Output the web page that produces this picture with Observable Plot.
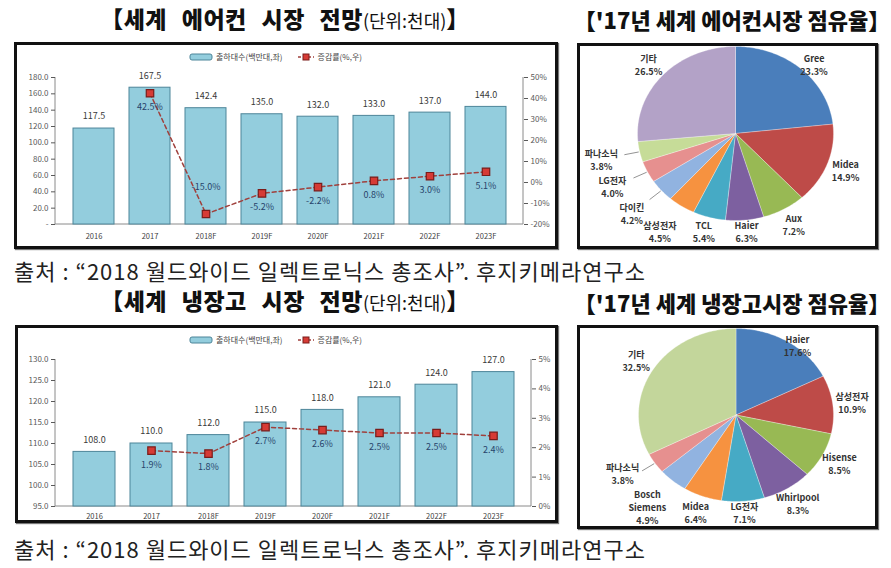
<!DOCTYPE html>
<html><head><meta charset="utf-8">
<script src="https://cdn.jsdelivr.net/npm/d3@7"></script>
<script src="https://cdn.jsdelivr.net/npm/@observablehq/plot@0.6"></script>
<style>
body{margin:0;background:#fff;font-family:"Noto Sans CJK KR","Noto Sans",sans-serif;}
#root{position:relative;width:891px;height:568px;overflow:hidden;background:#fff;}
.box{position:absolute;border:3px solid #111;box-sizing:border-box;box-shadow:1px 1px 1px #777;}
.title{position:absolute;font-weight:900;font-size:22px;white-space:nowrap;transform:translate(-50%,-50%);color:#111;line-height:1.2;}
.title.wide{font-size:23px;word-spacing:9px;letter-spacing:0.5px;}
.title small{font-weight:400;font-size:18px;letter-spacing:0;}
.caption{position:absolute;font-size:22px;letter-spacing:1px;white-space:nowrap;color:#222;line-height:1.2;transform:translateY(-50%);}
.legend{position:absolute;display:flex;align-items:center;font-size:8px;color:#444;white-space:nowrap;line-height:1;}
.legend svg{margin-right:3px;}
.legend span{margin-right:14px;}
.plot{position:absolute;overflow:visible;}
</style></head>
<body><div id="root"></div>
<script>
// ---------- data ----------
const years = ["2016","2017","2018F","2019F","2020F","2021F","2022F","2023F"];
const acUnits = [117.5,167.5,142.4,135.0,132.0,133.0,137.0,144.0];
const acGrowth = [null,42.5,-15.0,-5.2,-2.2,0.8,3.0,5.1];
const acLeftTicks = [0,20,40,60,80,100,120,140,160,180];
const acRightTicks = [-20,-10,0,10,20,30,40,50];
const frUnits = [108.0,110.0,112.0,115.0,118.0,121.0,124.0,127.0];
const frGrowth = [null,1.9,1.8,2.7,2.6,2.5,2.5,2.4];
const frLeftTicks = [95,100,105,110,115,120,125,130];
const frRightTicks = [0,1,2,3,4,5];
const acBrands = ["Gree","Midea","Aux","Haier","TCL","삼성전자","다이킨","LG전자","파나소닉","기타"];
const acShares = [23.3,14.9,7.2,6.3,5.4,4.5,4.2,4.0,3.8,26.5];
const frBrands = ["Haier","삼성전자","Hisense","Whirlpool","LG전자","Midea","Bosch\nSiemens","파나소닉","기타"];
const frShares = [17.6,10.9,8.5,8.3,7.1,6.4,4.9,3.8,32.5];
const titles = ["세계 에어컨 시장 전망","'17년 세계 에어컨시장 점유율","세계 냉장고 시장 전망","'17년 세계 냉장고시장 점유율"];
const unitNote = "(단위:천대)";
const source = "출처 : “2018 월드와이드 일렉트로닉스 총조사”. 후지키메라연구소";
const legendBar = "출하대수(백만대,좌)";
const legendLine = "증감률(%,우)";

// ---------- styles ----------
const acColors = ["#4a7ebb","#be4b48","#98b954","#7d60a0","#46aac5","#f69240","#91b3e0","#e6908f","#c6dc98","#b3a2c7"];
const frColors = ["#4a7ebb","#be4b48","#98b954","#7d60a0","#46aac5","#f69240","#91b3e0","#e6908f","#c3d69b"];
const BAR_FILL="#93cddd", BAR_STROKE="#4d8599", LINE="#a0403c", DOT_FILL="#d63b35", DOT_STROKE="#7a1c1a";
const FONT = '"Noto Sans CJK KR","Noto Sans",sans-serif';

const root = document.getElementById("root");
function addEl(html){ const d=document.createElement("div"); d.innerHTML=html; const el=d.firstElementChild; root.appendChild(el); return el; }
function place(node,left,top){ node.classList.add("plot"); node.style.left=left+"px"; node.style.top=top+"px"; root.appendChild(node); }

function frameLines(index, scales, values, dim){
  const g = d3.create("svg:g").attr("stroke","#8a8a8a").attr("stroke-width",1);
  const {width,height,marginLeft,marginRight,marginTop,marginBottom}=dim;
  const l=marginLeft, r=width-marginRight, t=marginTop, b=height-marginBottom;
  g.append("line").attr("x1",l).attr("x2",l).attr("y1",t).attr("y2",b);
  g.append("line").attr("x1",r).attr("x2",r).attr("y1",t).attr("y2",b);
  g.append("line").attr("x1",l).attr("x2",r).attr("y1",b).attr("y2",b);
  return g.node();
}

function combo({units,growth,leftTicks,rightTicks,leftFmt,width,height,margins,xPad}){
  const yMin=leftTicks[0], yMax=leftTicks[leftTicks.length-1];
  const gMin=rightTicks[0], gMax=rightTicks[rightTicks.length-1];
  const g2y=g=>yMin+(g-gMin)/(gMax-gMin)*(yMax-yMin);
  const y2g=y=>gMin+(y-yMin)/(yMax-yMin)*(gMax-gMin);
  const rows=years.map((year,i)=>({year,units:units[i],growth:growth[i]}));
  const lr=rows.filter(d=>d.growth!=null);
  const lowCut=gMin+(gMax-gMin)*0.12;
  return Plot.plot({
    width,height,...margins,
    style:{background:"transparent",fontFamily:FONT,overflow:"visible"},
    x:{domain:years,type:"band",padding:0.27,label:null},
    y:{domain:[yMin,yMax],label:null},
    marks:[
      frameLines,
      Plot.barY(rows,{x:"year",y1:yMin,y2:"units",fill:BAR_FILL,stroke:BAR_STROKE,strokeWidth:1}),
      Plot.text(rows,{x:"year",y:"units",text:d=>d.units.toFixed(1),dy:-12,fontSize:9,fill:"#3a3a3a"}),
      Plot.line(lr,{x:"year",y:d=>g2y(d.growth),stroke:LINE,strokeWidth:1.5,strokeDasharray:"4,3"}),
      Plot.dot(lr,{x:"year",y:d=>g2y(d.growth),symbol:"square",r:4.2,fill:DOT_FILL,stroke:DOT_STROKE,strokeWidth:1.2}),
      Plot.text(lr,{filter:d=>d.growth>=lowCut,x:"year",y:d=>g2y(d.growth),text:d=>d.growth.toFixed(1)+"%",dy:14,fontSize:9,fill:"#27446b"}),
      Plot.text(lr,{filter:d=>d.growth<lowCut,x:"year",y:d=>g2y(d.growth),text:d=>d.growth.toFixed(1)+"%",dy:-27,fontSize:9,fill:"#27446b"}),
      Plot.axisY({ticks:leftTicks,tickFormat:leftFmt,tickSize:4,tickPadding:3,fontSize:8,color:"#595959",label:null}),
      Plot.axisY({anchor:"right",ticks:rightTicks.map(g2y),tickFormat:y=>Math.round(y2g(y))+"%",tickSize:4,tickPadding:3,fontSize:8,color:"#595959",label:null}),
      Plot.axisX({tickSize:0,tickPadding:xPad,fontSize:7.5,color:"#404040",label:null})
    ]
  });
}

function pie({brands,shares,colors,width,height,margins}){
  const FS=9, LH=1.45;
  const kx=(width-margins.marginLeft-margins.marginRight)/2;   // px per unit
  const ky=(height-margins.marginTop-margins.marginBottom)/2;
  const rows=brands.map((brand,i)=>({brand,share:shares[i],color:colors[i]}));
  const arcs=d3.pie().sort(null).value(d=>d.share)(rows);
  const pts=arcs.flatMap(a=>{
    const n=Math.max(2,Math.ceil((a.endAngle-a.startAngle)/(Math.PI/180)));
    const c={brand:a.data.brand,color:a.data.color,px:0,py:0};
    const out=[c];
    for(let k=0;k<=n;k++){const t=a.startAngle+(a.endAngle-a.startAngle)*k/n; out.push({brand:a.data.brand,color:a.data.color,px:Math.sin(t),py:Math.cos(t)});}
    out.push(c); return out;
  });
  const labs=arcs.map(a=>{const m=(a.startAngle+a.endAngle)/2; const r=a.data.share<5?1.4:1.2;
    const text=a.data.brand+"\n"+a.data.share.toFixed(1)+"%";
    const lines=text.split("\n");
    return {...a.data,mid:m,text,lx:r*Math.sin(m),ly:Math.max(-1.13,Math.min(0.8,r*Math.cos(m))),
      w:d3.max(lines,s=>s.length)*FS*0.62/kx, h:lines.length*FS*LH/ky};});
  // simple collision relaxation on the left side: going up (increasing angle), push labels up
  const left=labs.filter(d=>Math.sin(d.mid)<0).sort((a,b)=>a.mid-b.mid);
  for(let i=1;i<left.length;i++){
    const p=left[i-1], q=left[i];
    if(Math.abs(p.lx-q.lx)<(p.w+q.w)/2){
      const need=p.ly+p.h/2+q.h/2+1/ky;
      if(q.ly<need) q.ly=need;
    }
  }
  const small=labs.filter(d=>d.share<4.5);
  return Plot.plot({
    width,height,...margins,
    style:{background:"transparent",fontFamily:FONT,overflow:"visible"},
    x:{domain:[-1,1],axis:null},
    y:{domain:[-1,1],axis:null},
    color:{type:"identity"},
    marks:[
      Plot.line(pts,{x:"px",y:"py",z:"brand",fill:"color",stroke:"#ffffff",strokeWidth:0.5,strokeOpacity:0.6}),
      Plot.link(small,{x1:d=>1.01*Math.sin(d.mid),y1:d=>1.01*Math.cos(d.mid),x2:d=>1.16*Math.sin(d.mid),y2:d=>1.16*Math.cos(d.mid),stroke:"#777",strokeWidth:0.8}),
      Plot.text(labs,{x:"lx",y:"ly",text:"text",fontSize:FS,fontWeight:"bold",fill:"#333",lineHeight:LH})
    ]
  });
}

// boxes
addEl('<div class="box" style="left:14px;top:42px;width:544px;height:207px"></div>');
addEl('<div class="box" style="left:577px;top:43px;width:301px;height:206px"></div>');
addEl('<div class="box" style="left:15px;top:325px;width:543px;height:198px"></div>');
addEl('<div class="box" style="left:577px;top:325px;width:301px;height:204px"></div>');

// titles
addEl(`<div class="title wide" style="left:285px;top:19px">【${titles[0]}<small>${unitNote}</small>】</div>`);
addEl(`<div class="title" style="left:732px;top:19px">【${titles[1]}】</div>`);
addEl(`<div class="title wide" style="left:285px;top:301px">【${titles[2]}<small>${unitNote}</small>】</div>`);
addEl(`<div class="title" style="left:732px;top:302px">【${titles[3]}】</div>`);

// captions
addEl(`<div class="caption" style="left:14px;top:270px">${source}</div>`);
addEl(`<div class="caption" style="left:14px;top:548px">${source}</div>`);

// legends
const legendHTML=(left,top)=>`<div class="legend" style="left:${left}px;top:${top}px">
<svg width="24" height="10"><rect x="1" y="2" width="22" height="6" rx="2" fill="${BAR_FILL}" stroke="${BAR_STROKE}"/></svg><span>${legendBar}</span>
<svg width="18" height="10"><line x1="1" x2="17" y1="5" y2="5" stroke="${LINE}" stroke-width="1.5" stroke-dasharray="3,2"/><rect x="6" y="2" width="6" height="6" fill="${DOT_FILL}" stroke="${DOT_STROKE}"/></svg><span>${legendLine}</span></div>`;
addEl(legendHTML(189,52));
addEl(legendHTML(189,335));

// charts
place(combo({units:acUnits,growth:acGrowth,leftTicks:acLeftTicks,rightTicks:acRightTicks,
  leftFmt:d=>d===0?"-":d.toFixed(1),width:540,height:203,
  margins:{marginLeft:39,marginRight:33,marginTop:32,marginBottom:24},xPad:9}),16,45);
place(combo({units:frUnits,growth:frGrowth,leftTicks:frLeftTicks,rightTicks:frRightTicks,
  leftFmt:d=>d.toFixed(1),width:540,height:194,
  margins:{marginLeft:39,marginRight:25,marginTop:32,marginBottom:15},xPad:7}),16,327);
place(pie({brands:acBrands,shares:acShares,colors:acColors,width:299,height:202,
  margins:{marginLeft:59,marginRight:44,marginTop:1,marginBottom:27}}),578,45);
place(pie({brands:frBrands,shares:frShares,colors:frColors,width:299,height:200,
  margins:{marginLeft:60,marginRight:44,marginTop:1,marginBottom:26}}),578,327);
</script></body></html>
